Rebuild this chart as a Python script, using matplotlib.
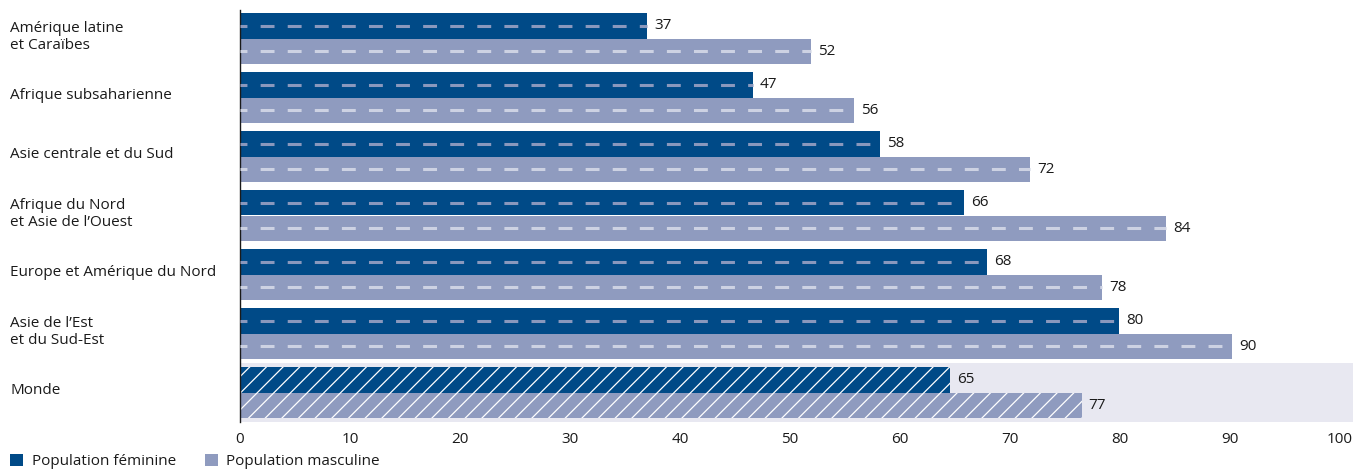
import matplotlib
matplotlib.use("Agg")
import matplotlib.pyplot as plt
from matplotlib.patches import Patch
import numpy as np

# ===========données================
regions = ["Amérique latine\net Caraïbes", "Afrique subsaharienne",
           "Asie centrale et du Sud", "Afrique du Nord\net Asie de l\u2019Ouest",
           "Europe et Amérique du Nord", "Asie de l\u2019Est\net du Sud-Est", "Monde"]
feminine = [37.0, 46.6, 58.2, 65.8, 67.9, 79.9, 64.5]
masculine = [51.9, 55.8, 71.8, 84.2, 78.4, 90.2, 76.5]
fem_labels = ["37", "47", "58", "66", "68", "80", "65"]
masc_labels = ["52", "56", "72", "84", "78", "90", "77"]
xticks = [0, 10, 20, 30, 40, 50, 60, 70, 80, 90, 100]
legend_labels = ["Population féminine", "Population masculine"]

# ===========style================
DARK = "#004a87"
LIGHT = "#8f9bbf"
DASH_DARK = "#8a98bd"
DASH_LIGHT = "#cdd2e3"
BAND = "#e8e8f1"
TXT = "#1a1a1a"
plt.rcParams['font.family'] = ['Open Sans', 'DejaVu Sans']
plt.rcParams['hatch.linewidth'] = 0.9
plt.rcParams['lines.scale_dashes'] = False
FS = 11

W, H = 1364, 471
fig = plt.figure(figsize=(W / 100, H / 100), dpi=100)
# axes: x 240..1340 px, y 10..422 px
ax = fig.add_axes([240 / W, 1 - 422 / H, 1100 / W, 412 / H])

y = np.arange(len(regions))
bh = 0.432
n = len(regions)

ax.axhspan(n - 1.5, n - 0.5, xmin=0, xmax=1113 / 1100, color=BAND, lw=0, clip_on=False, zorder=0)

for i in range(n):
    monde = (i == n - 1)
    yf = y[i] - bh / 2
    ym = y[i] + bh / 2
    if monde:
        ax.barh(yf, feminine[i], height=bh, color=DARK, hatch='//', edgecolor='white', linewidth=0, zorder=2)
        ax.barh(ym, masculine[i], height=bh, color=LIGHT, hatch='//', edgecolor='white', linewidth=0, zorder=2)
    else:
        ax.barh(yf, feminine[i], height=bh, color=DARK, linewidth=0, zorder=2)
        ax.barh(ym, masculine[i], height=bh, color=LIGHT, linewidth=0, zorder=2)
        ax.plot([0, feminine[i]], [yf, yf], color=DASH_DARK, lw=2.2,
                ls=(5.0, (10.0, 9.5)), solid_capstyle='butt', dash_capstyle='butt', zorder=3)
        ax.plot([0, masculine[i]], [ym, ym], color=DASH_LIGHT, lw=2.2,
                ls=(5.0, (10.0, 9.5)), solid_capstyle='butt', dash_capstyle='butt', zorder=3)
    ax.text(feminine[i] + 0.65, yf, fem_labels[i], va='center', ha='left', fontsize=FS, color=TXT)
    ax.text(masculine[i] + 0.65, ym, masc_labels[i], va='center', ha='left', fontsize=FS, color=TXT)
    # libellé de région
    ax.text(-230 / 11, y[i] - 0.03, regions[i], va='center', ha='left', fontsize=FS,
            color=TXT, linespacing=1.2)

ax.set_xlim(0, 100)
ax.set_ylim(n - 0.5, -28.5 / 59)
ax.set_xticks(xticks)
ax.set_xticklabels([str(t) for t in xticks], fontsize=FS, color=TXT)
ax.tick_params(axis='x', length=0, pad=7)
ax.set_yticks([])
for s in ['top', 'right', 'bottom']:
    ax.spines[s].set_visible(False)
ax.spines['left'].set_color(TXT)
ax.spines['left'].set_linewidth(1.0)
ax.set_facecolor('none')

handles = [Patch(facecolor=DARK, edgecolor='none'), Patch(facecolor=LIGHT, edgecolor='none')]
fig.legend(handles, legend_labels, loc='lower left', bbox_to_anchor=(4 / W, -4 / H),
           ncol=2, frameon=False, fontsize=FS, handlelength=0.85, handleheight=0.85,
           handletextpad=0.55, columnspacing=1.9, borderaxespad=0, labelcolor=TXT)

fig.savefig("out.png", dpi=100)
